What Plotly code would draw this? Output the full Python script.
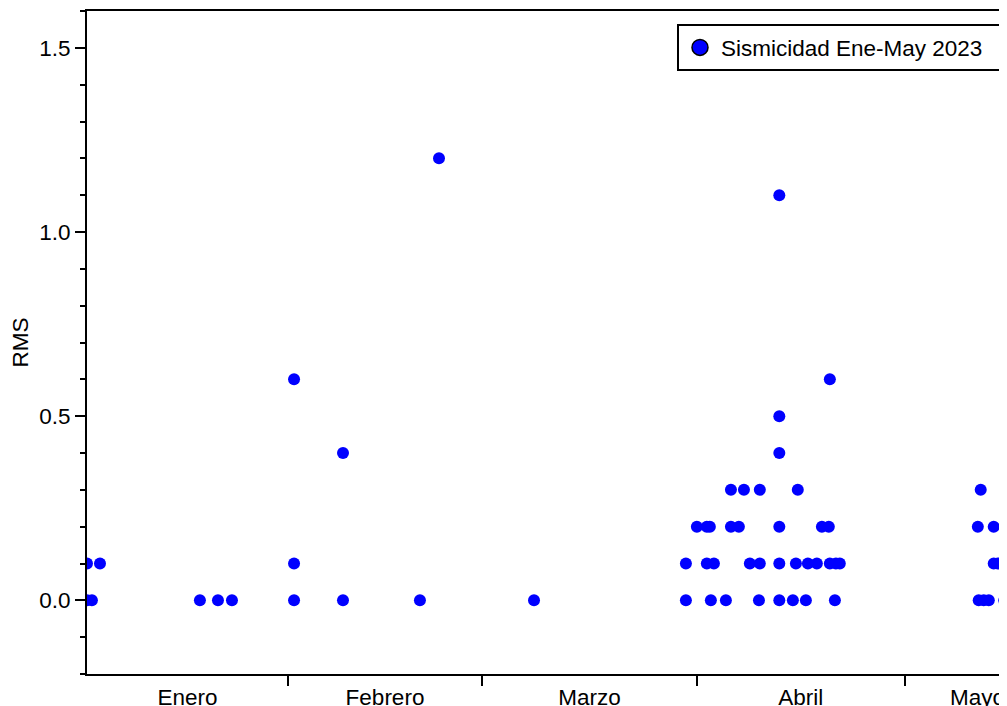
import plotly.graph_objects as go

# --- Data ---
fechas = [
    "2023-01-03 00:00", "2023-01-03 00:00", "2023-01-03 17:00", "2023-01-04 21:00",
    "2023-01-19 07:00", "2023-01-21 21:30", "2023-01-23 22:00",
    "2023-02-01 21:00", "2023-02-01 21:00", "2023-02-01 21:00",
    "2023-02-08 22:30", "2023-02-08 22:30",
    "2023-02-20 01:00", "2023-02-22 19:00",
    "2023-03-08 12:00",
    "2023-03-30 10:00", "2023-03-30 10:00",
    "2023-04-01 00:00",
    "2023-04-02 10:30", "2023-04-02 10:30",
    "2023-04-02 21:00",
    "2023-04-03 00:30",
    "2023-04-03 11:00",
    "2023-04-05 04:30",
    "2023-04-05 22:00", "2023-04-05 22:00",
    "2023-04-07 01:30",
    "2023-04-07 19:00",
    "2023-04-08 15:30",
    "2023-04-09 23:00",
    "2023-04-10 02:00", "2023-04-10 02:00",
    "2023-04-12 21:30", "2023-04-12 21:30", "2023-04-12 21:30",
    "2023-04-12 21:30", "2023-04-12 21:30", "2023-04-12 21:30",
    "2023-04-14 20:30",
    "2023-04-15 07:00",
    "2023-04-15 13:30",
    "2023-04-16 17:30",
    "2023-04-17 00:30",
    "2023-04-18 07:30",
    "2023-04-19 01:00",
    "2023-04-20 01:00",
    "2023-04-20 04:30", "2023-04-20 04:30",
    "2023-04-20 22:00",
    "2023-04-21 01:30",
    "2023-04-21 15:00",
    "2023-05-11 13:00",
    "2023-05-11 16:00",
    "2023-05-11 23:00",
    "2023-05-12 09:30",
    "2023-05-13 03:00",
    "2023-05-13 20:00", "2023-05-13 20:00",
    "2023-05-14 10:00",
    "2023-05-15 08:30", "2023-05-15 08:30",
]
rms = [
    0.1, 0.0, 0.0, 0.1,
    0.0, 0.0, 0.0,
    0.6, 0.1, 0.0,
    0.4, 0.0,
    0.0, 1.2,
    0.0,
    0.1, 0.0,
    0.2,
    0.2, 0.1,
    0.2,
    0.0,
    0.1,
    0.0,
    0.3, 0.2,
    0.2,
    0.3,
    0.1,
    0.0,
    0.3, 0.1,
    1.1, 0.5, 0.4,
    0.2, 0.1, 0.0,
    0.0,
    0.1,
    0.3,
    0.0,
    0.1,
    0.1,
    0.2,
    0.2,
    0.6, 0.1,
    0.0,
    0.1,
    0.1,
    0.2,
    0.0,
    0.3,
    0.0,
    0.0,
    0.2, 0.1,
    0.1,
    0.1, 0.0,
]

meses = ["Enero", "Febrero", "Marzo", "Abril", "Mayo"]
centros_meses = ["2023-01-17 12:00", "2023-02-15 00:00", "2023-03-16 12:00",
                 "2023-04-16 00:00", "2023-05-11 12:00"]
limites_meses = ["2023-02-01", "2023-03-01", "2023-04-01", "2023-05-01"]
rango_x = ["2023-01-03 00:00", "2023-05-15 18:00"]
rango_y = [-0.2, 1.6]
leyenda = "Sismicidad Ene-May 2023"

FONT = "Liberation Sans, Arial, Helvetica, sans-serif"
FS = 22.5

fig = go.Figure()
fig.add_trace(go.Scatter(
    x=fechas, y=rms, mode="markers",
    marker=dict(color="#0000FF", size=12, line=dict(width=0)),
    showlegend=False, hoverinfo="x+y",
))
fig.add_trace(go.Scatter(
    x=[None], y=[None], mode="markers", name=leyenda + "\u00a0\u00a0",
    marker=dict(color="#0000FF", size=20, line=dict(width=1.5, color="black")),
    showlegend=True,
))

fig.update_layout(
    width=999, height=698,
    margin=dict(l=79, r=0, t=3, b=32),
    paper_bgcolor="white", plot_bgcolor="white",
    font=dict(family=FONT, size=FS, color="black"),
    legend=dict(
        x=0.6413, xanchor="left", y=0.980, yanchor="top",
        bordercolor="black", borderwidth=2, bgcolor="white",
        itemwidth=32,
        font=dict(family=FONT, size=FS, color="black"),
    ),
)
fig.update_xaxes(
    type="date", range=rango_x, automargin=False,
    showgrid=False, zeroline=False,
    showline=True, linecolor="black", linewidth=2, mirror=True,
    tickmode="array", tickvals=centros_meses, ticktext=meses,
    ticklabeloverflow="allow",
    ticks="outside", ticklen=2, tickcolor="rgba(0,0,0,0)", tickwidth=1,
    tickfont=dict(family=FONT, size=FS, color="black"),
    minor=dict(tickmode="array", tickvals=limites_meses, ticks="outside",
               ticklen=10, tickwidth=1.5, tickcolor="black", showgrid=False),
)
fig.update_yaxes(
    range=rango_y, automargin=False,
    showgrid=False, zeroline=False,
    showline=True, linecolor="black", linewidth=2, mirror=False,
    tickmode="array", tickvals=[0.0, 0.5, 1.0, 1.5],
    ticktext=["0.0", "0.5", "1.0", "1.5"],
    ticks="outside", ticklen=10, tickwidth=1.5, tickcolor="black",
    tickfont=dict(family=FONT, size=FS, color="black"),
    minor=dict(tickmode="linear", tick0=0, dtick=0.1, ticks="outside",
               ticklen=5, tickwidth=1.5, tickcolor="black", showgrid=False),
    title=dict(text="RMS", font=dict(family=FONT, size=FS, color="black"), standoff=6),
)

fig.write_html("out.html")
